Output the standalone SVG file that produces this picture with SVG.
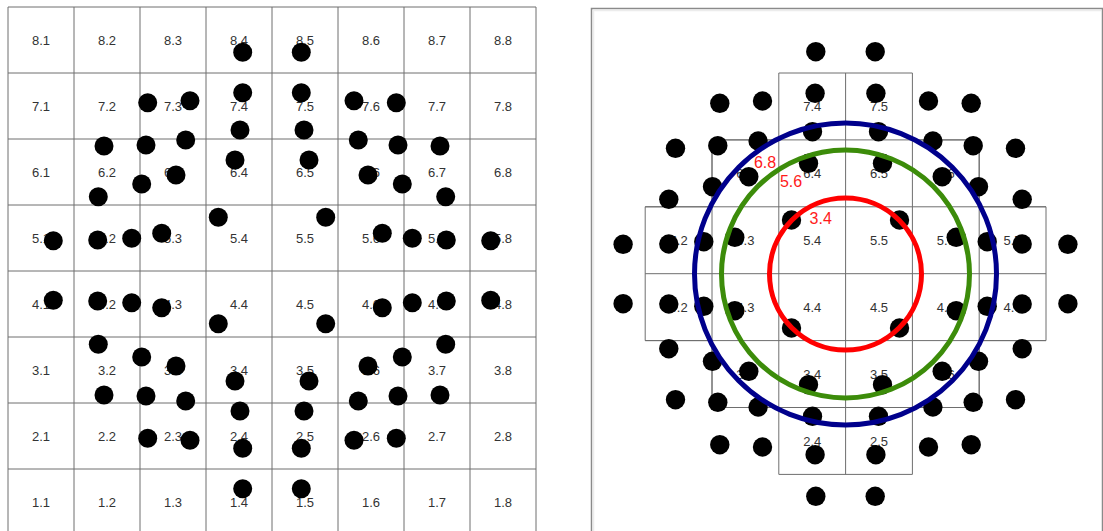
<svg xmlns="http://www.w3.org/2000/svg" xmlns:xlink="http://www.w3.org/1999/xlink" width="1103" height="531" viewBox="0 0 1103 531">
<style>
.grid{fill:none;stroke:#6e6e6e;stroke-width:1}
.lbl{font-family:"Liberation Sans",Arial,sans-serif;font-size:13px;fill:#333;text-anchor:middle}
.rlbl{font-family:"Liberation Sans",Arial,sans-serif;font-size:16px;fill:#ff1a1a;text-anchor:middle}
.dot{fill:#000}
.ring{fill:none;stroke-width:5}
</style>
<defs>
<g id="qL">
<circle class="dot" r="9.5" cx="242.7" cy="52.3"/><circle class="dot" r="9.5" cx="242.7" cy="92.7"/><circle class="dot" r="9.5" cx="240" cy="130"/><circle class="dot" r="9.5" cx="235" cy="160"/><circle class="dot" r="9.5" cx="147.7" cy="102.7"/><circle class="dot" r="9.5" cx="190" cy="100.7"/><circle class="dot" r="9.5" cx="104" cy="146"/><circle class="dot" r="9.5" cx="146" cy="145"/><circle class="dot" r="9.5" cx="185.7" cy="140"/><circle class="dot" r="9.5" cx="176" cy="175"/><circle class="dot" r="9.5" cx="141.7" cy="184"/><circle class="dot" r="9.5" cx="98.3" cy="196.7"/><circle class="dot" r="9.5" cx="218.3" cy="217.3"/><circle class="dot" r="9.5" cx="53.3" cy="240.7"/><circle class="dot" r="9.5" cx="97.7" cy="240"/><circle class="dot" r="9.5" cx="131.7" cy="238.3"/><circle class="dot" r="9.5" cx="161.7" cy="233.3"/>
</g>
<g id="qR">
<circle class="dot" r="9.7" cx="815.8" cy="51.7"/><circle class="dot" r="9.7" cx="815.1" cy="93.3"/><circle class="dot" r="9.7" cx="812.5" cy="131.7"/><circle class="dot" r="9.7" cx="808.5" cy="163.3"/><circle class="dot" r="9.7" cx="719.8" cy="103.3"/><circle class="dot" r="9.7" cx="762.5" cy="101"/><circle class="dot" r="9.7" cx="675.5" cy="148.3"/><circle class="dot" r="9.7" cx="717.8" cy="145.7"/><circle class="dot" r="9.7" cx="758.1" cy="141"/><circle class="dot" r="9.7" cx="748.8" cy="176.7"/><circle class="dot" r="9.7" cx="712.5" cy="186.7"/><circle class="dot" r="9.7" cx="668.8" cy="199.3"/><circle class="dot" r="9.7" cx="791.5" cy="220"/><circle class="dot" r="9.7" cx="623.1" cy="244.3"/><circle class="dot" r="9.7" cx="668.8" cy="244"/><circle class="dot" r="9.7" cx="703.8" cy="241.7"/><circle class="dot" r="9.7" cx="734.8" cy="237.3"/>
</g>
</defs>

<g id="left-grid">
<path class="grid" d="M8,7H536V540M8,7V540M74,7V540M140,7V540M206,7V540M272,7V540M338,7V540M404,7V540M470,7V540M8,73H536M8,139H536M8,205H536M8,271H536M8,337H536M8,403H536M8,469H536"/>
<g class="lbl">
<text x="41" y="44.5">8.1</text><text x="107" y="44.5">8.2</text><text x="173" y="44.5">8.3</text><text x="239" y="44.5">8.4</text><text x="305" y="44.5">8.5</text><text x="371" y="44.5">8.6</text><text x="437" y="44.5">8.7</text><text x="503" y="44.5">8.8</text>
<text x="41" y="110.5">7.1</text><text x="107" y="110.5">7.2</text><text x="173" y="110.5">7.3</text><text x="239" y="110.5">7.4</text><text x="305" y="110.5">7.5</text><text x="371" y="110.5">7.6</text><text x="437" y="110.5">7.7</text><text x="503" y="110.5">7.8</text>
<text x="41" y="176.5">6.1</text><text x="107" y="176.5">6.2</text><text x="173" y="176.5">6.3</text><text x="239" y="176.5">6.4</text><text x="305" y="176.5">6.5</text><text x="371" y="176.5">6.6</text><text x="437" y="176.5">6.7</text><text x="503" y="176.5">6.8</text>
<text x="41" y="242.5">5.1</text><text x="107" y="242.5">5.2</text><text x="173" y="242.5">5.3</text><text x="239" y="242.5">5.4</text><text x="305" y="242.5">5.5</text><text x="371" y="242.5">5.6</text><text x="437" y="242.5">5.7</text><text x="503" y="242.5">5.8</text>
<text x="41" y="308.5">4.1</text><text x="107" y="308.5">4.2</text><text x="173" y="308.5">4.3</text><text x="239" y="308.5">4.4</text><text x="305" y="308.5">4.5</text><text x="371" y="308.5">4.6</text><text x="437" y="308.5">4.7</text><text x="503" y="308.5">4.8</text>
<text x="41" y="374.5">3.1</text><text x="107" y="374.5">3.2</text><text x="173" y="374.5">3.3</text><text x="239" y="374.5">3.4</text><text x="305" y="374.5">3.5</text><text x="371" y="374.5">3.6</text><text x="437" y="374.5">3.7</text><text x="503" y="374.5">3.8</text>
<text x="41" y="440.5">2.1</text><text x="107" y="440.5">2.2</text><text x="173" y="440.5">2.3</text><text x="239" y="440.5">2.4</text><text x="305" y="440.5">2.5</text><text x="371" y="440.5">2.6</text><text x="437" y="440.5">2.7</text><text x="503" y="440.5">2.8</text>
<text x="41" y="506.5">1.1</text><text x="107" y="506.5">1.2</text><text x="173" y="506.5">1.3</text><text x="239" y="506.5">1.4</text><text x="305" y="506.5">1.5</text><text x="371" y="506.5">1.6</text><text x="437" y="506.5">1.7</text><text x="503" y="506.5">1.8</text>
</g>
</g>
<g id="left-dots">
<use xlink:href="#qL"/>
<use xlink:href="#qL" transform="translate(544,0) scale(-1,1)"/>
<use xlink:href="#qL" transform="translate(0,541) scale(1,-1)"/>
<use xlink:href="#qL" transform="translate(544,541) scale(-1,-1)"/>
</g>

<g id="right-panel">
<rect x="591.5" y="8.5" width="511" height="540" fill="#fff" stroke="#8a8a8a" stroke-width="1.5"/>
<path d="M593,10.5H1101M593.5,10V540" fill="none" stroke="#ececec" stroke-width="1.5"/>
<path class="grid" d="M778.8,73H912.4V139.9H979.2V206.8H1046V340.6H979.2V407.5H912.4V474.4H778.8V407.5H712V340.6H645.2V206.8H712V139.9H778.8Z M845.6,73V474.4 M712,139.9V407.5 M979.2,139.9V407.5 M778.8,139.9V407.5 M912.4,139.9V407.5 M712,139.9H979.2 M645.2,206.8H1046 M645.2,273.7H1046 M645.2,340.6H1046 M712,407.5H979.2"/>
<g class="lbl">
<text x="812.2" y="111">7.4</text><text x="879" y="111">7.5</text>
<text x="745.4" y="177.9">6.3</text><text x="812.2" y="177.9">6.4</text><text x="879" y="177.9">6.5</text><text x="945.8" y="177.9">6.6</text>
<text x="678.6" y="244.8">5.2</text><text x="745.4" y="244.8">5.3</text><text x="812.2" y="244.8">5.4</text><text x="879" y="244.8">5.5</text><text x="945.8" y="244.8">5.6</text><text x="1012.6" y="244.8">5.7</text>
<text x="678.6" y="311.7">4.2</text><text x="745.4" y="311.7">4.3</text><text x="812.2" y="311.7">4.4</text><text x="879" y="311.7">4.5</text><text x="945.8" y="311.7">4.6</text><text x="1012.6" y="311.7">4.7</text>
<text x="745.4" y="378.6">3.3</text><text x="812.2" y="378.6">3.4</text><text x="879" y="378.6">3.5</text><text x="945.8" y="378.6">3.6</text>
<text x="812.2" y="445.5">2.4</text><text x="879" y="445.5">2.5</text>
</g>
</g>
<g id="right-dots">
<use xlink:href="#qR"/>
<use xlink:href="#qR" transform="translate(1691,0) scale(-1,1)"/>
<use xlink:href="#qR" transform="translate(0,548) scale(1,-1)"/>
<use xlink:href="#qR" transform="translate(1691,548) scale(-1,-1)"/>
</g>
<g id="rings">
<circle class="ring" cx="845.5" cy="274" r="151" stroke="#00008c"/>
<circle class="ring" cx="845.5" cy="274" r="124" stroke="#3c8c0a"/>
<circle class="ring" cx="845.5" cy="274" r="76" stroke="#ff0000"/>
</g>
<g id="ring-labels" class="rlbl">
<text x="765" y="168">6.8</text>
<text x="791" y="186.7">5.6</text>
<text x="820.7" y="224">3.4</text>
</g>
</svg>
